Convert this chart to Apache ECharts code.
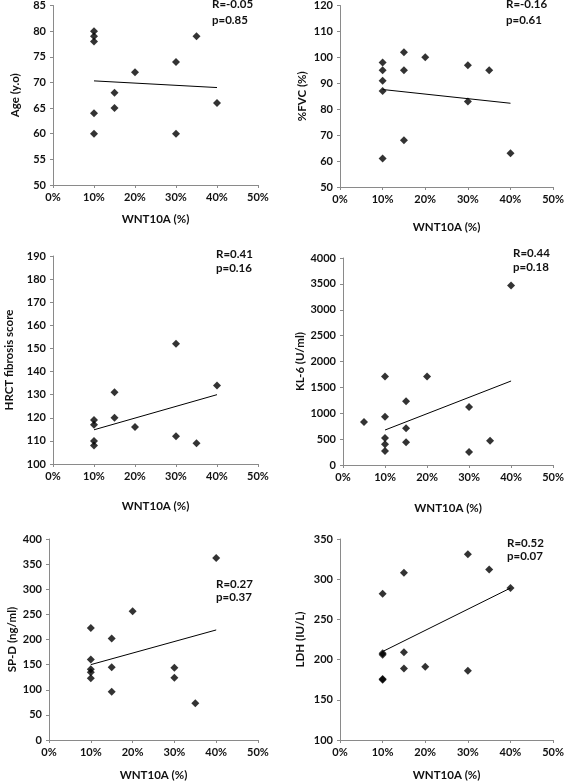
<!DOCTYPE html>
<html>
<head>
<meta charset="utf-8">
<script src="https://cdn.jsdelivr.net/npm/echarts@6/dist/echarts.min.js"></script>
<style>
html,body{margin:0;padding:0;background:#fff;}
#c{width:567px;height:782px;}
</style>
</head>
<body>
<div id="c"></div>
<script>
// ---- Data (x = WNT10A %, y = measured value) ----
const trendX = [10, 40];

const ageX = [10, 10, 10, 10, 10, 15, 15, 20, 30, 30, 35, 40];
const ageY = [80, 79, 78, 64, 60, 68, 65, 72, 74, 60, 79, 66];
const ageTrend = [70.3, 69.0];

const fvcX = [10, 10, 10, 10, 10, 15, 15, 15, 20, 30, 30, 35, 40];
const fvcY = [98, 95, 91, 87, 61, 102, 95, 68, 100, 97, 83, 95, 63];
const fvcTrend = [87.6, 82.3];

const hrctX = [10, 10, 10, 10, 15, 15, 20, 30, 30, 35, 40];
const hrctY = [119, 117, 110, 108, 131, 120, 116, 152, 112, 109, 134];
const hrctTrend = [114.8, 130.0];

const kl6X = [5, 10, 10, 10, 10, 10, 15, 15, 15, 20, 30, 30, 35, 40];
const kl6Y = [830, 1710, 930, 520, 400, 270, 1230, 710, 440, 1710, 1120, 250, 470, 3470];
const kl6Trend = [676, 1623];

const spdX = [10, 10, 10, 10, 10, 15, 15, 15, 20, 30, 30, 35, 40];
const spdY = [223, 160, 141, 135, 123, 202, 145, 96, 256, 144, 124, 73, 362];
const spdTrend = [150, 219];

const ldhX = [10, 10, 10, 10, 10, 15, 15, 15, 20, 30, 30, 35, 40];
const ldhY = [282, 208, 206, 176, 175, 308, 209, 189, 191, 331, 186, 312, 289];
const ldhTrend = [210, 289];

const xTicksMin = 0, xTicksMax = 50, xTicksStep = 10;
const xTitle = 'WNT10A (%)';
const yTitles = ['Age (y.o)', '%FVC (%)', 'HRCT fibrosis score', 'KL-6 (U/ml)', 'SP-D (ng/ml)', 'LDH (IU/L)'];
const yMin = [50, 50, 100, 0, 0, 100];
const yMax = [85, 120, 190, 4000, 400, 350];
const yStep = [5, 10, 10, 500, 50, 50];
const statR = ['R=-0.05', 'R=-0.16', 'R=0.41', 'R=0.44', 'R=0.27', 'R=0.52'];
const statP = ['p=0.85', 'p=0.61', 'p=0.16', 'p=0.18', 'p=0.37', 'p=0.07'];

const panelsX = [ageX, fvcX, hrctX, kl6X, spdX, ldhX];
const panelsY = [ageY, fvcY, hrctY, kl6Y, spdY, ldhY];
const trends = [ageTrend, fvcTrend, hrctTrend, kl6Trend, spdTrend, ldhTrend];

// ---- Layout ----
const grids = [
  {left: 53, top: 5, width: 205, height: 180},
  {left: 340, top: 4, width: 216, height: 183},
  {left: 53, top: 256, width: 205, height: 208},
  {left: 343, top: 258, width: 215, height: 207},
  {left: 49, top: 539, width: 209, height: 203},
  {left: 340, top: 539, width: 216, height: 203}
];
const xNameGap = [28, 34, 36, 37, 29, 29];
const yNameGap = [32, 32, 38, 37, 31, 34];
const statPos = [[212, 5, 21], [506, 5, 21], [216, 255, 269], [513, 254, 268], [216, 585, 598], [507, 544, 557]];

const FONT = 'Lato, "Open Sans", sans-serif';
const axisColor = '#8a8a8a';
const txt = {color: '#111', fontFamily: FONT, fontSize: 11, fontWeight: 'bold'};

const xAxes = [], yAxes = [], series = [], graphics = [];
for (let i = 0; i < 6; i++) {
  xAxes.push({
    type: 'value', gridIndex: i, min: xTicksMin, max: xTicksMax, interval: xTicksStep,
    name: xTitle, nameLocation: 'middle', nameGap: xNameGap[i],
    nameTextStyle: Object.assign({}, txt, {fontSize: 11.5}),
    axisLine: {show: true, onZero: false, lineStyle: {color: axisColor, width: 1}},
    axisTick: {show: true, length: 3, inside: false, lineStyle: {color: axisColor}},
    axisLabel: Object.assign({}, txt, {margin: 7, formatter: function (v) { return v + '%'; }}),
    splitLine: {show: false}
  });
  yAxes.push({
    type: 'value', gridIndex: i, min: yMin[i], max: yMax[i], interval: yStep[i],
    name: yTitles[i], nameLocation: 'middle', nameGap: yNameGap[i],
    nameTextStyle: Object.assign({}, txt, {fontSize: 11.5}),
    axisLine: {show: true, onZero: false, lineStyle: {color: axisColor, width: 1}},
    axisTick: {show: true, length: 3, inside: false, lineStyle: {color: axisColor}},
    axisLabel: Object.assign({}, txt, {margin: 7, formatter: function (v) { return String(v); }}),
    splitLine: {show: false}
  });
  series.push({
    type: 'scatter', xAxisIndex: i, yAxisIndex: i, symbol: 'diamond', symbolSize: 8,
    itemStyle: {color: '#000'},
    data: panelsX[i].map((x, k) => [x, panelsY[i][k]]),
    silent: true, animation: false
  });
  series.push({
    type: 'line', xAxisIndex: i, yAxisIndex: i, symbol: 'none',
    lineStyle: {color: '#000', width: 1},
    data: trendX.map((x, k) => [x, trends[i][k]]),
    silent: true, animation: false, z: 1
  });
  graphics.push({type: 'text', left: statPos[i][0], top: statPos[i][1] - 7,
    style: {text: statR[i], fill: '#111', font: 'bold 11.5px ' + FONT}});
  graphics.push({type: 'text', left: statPos[i][0], top: statPos[i][2] - 7,
    style: {text: statP[i], fill: '#111', font: 'bold 11.5px ' + FONT}});
}

const chart = echarts.init(document.getElementById('c'), null, {renderer: 'canvas'});
chart.setOption({
  animation: false,
  backgroundColor: '#fff',
  grid: grids,
  xAxis: xAxes,
  yAxis: yAxes,
  series: series,
  graphic: graphics
});
</script>
</body>
</html>
